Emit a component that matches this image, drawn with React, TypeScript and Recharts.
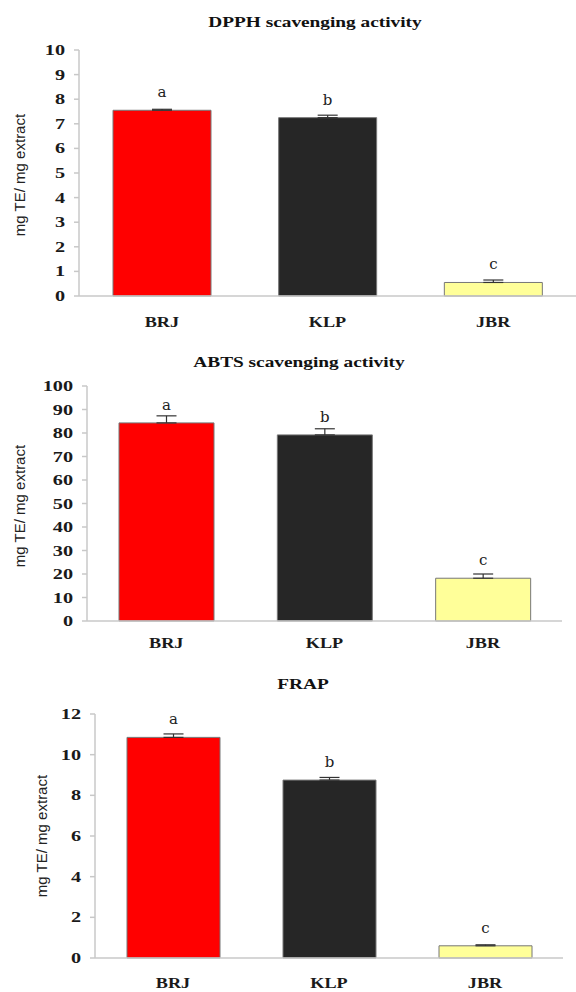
import React from 'react';
import { BarChart, Bar, XAxis, YAxis, Cell, ErrorBar, LabelList } from 'recharts';

const categories = ['BRJ', 'KLP', 'JBR'];
const barColors = ['#ff0000', '#262626', '#ffff99'];
const letters = ['a', 'b', 'c'];

const dpphValues = [7.55, 7.25, 0.55];
const dpphErrors = [0.04, 0.1, 0.1];
const dpphTicks = [0, 1, 2, 3, 4, 5, 6, 7, 8, 9, 10];

const abtsValues = [84.3, 79.2, 18.2];
const abtsErrors = [3, 2.6, 1.8];
const abtsTicks = [0, 10, 20, 30, 40, 50, 60, 70, 80, 90, 100];

const frapValues = [10.85, 8.75, 0.6];
const frapErrors = [0.17, 0.13, 0.05];
const frapTicks = [0, 2, 4, 6, 8, 10, 12];

const serif = '"Liberation Serif", "Times New Roman", serif';
const sans = '"Liberation Sans", Arial, sans-serif';
const axisGray = '#c8c8c8';

const buildRows = (values: number[], errors: number[]) =>
  categories.map((name, i) => ({ name, value: values[i], err: [0, errors[i]], letter: letters[i] }));

// tick text is drawn wide, like the stretched original
const renderYTick = ({ x, y, payload }: any) => (
  <g transform={`translate(${x},${y})`}>
    <text transform="scale(1.35,1)" textAnchor="end" dy={5} fontFamily={serif} fontWeight="bold" fontSize={15} fill="#1a1a1a">
      {payload.value}
    </text>
  </g>
);

const makeXTick = (dy: number) => ({ x, y, payload }: any) => (
  <g transform={`translate(${x},${y})`}>
    <text transform="scale(1.3,1)" textAnchor="middle" dy={dy} fontFamily={serif} fontWeight="bold" fontSize={14} fill="#1a1a1a">
      {payload.value}
    </text>
  </g>
);

const letterLabel = (p: any) => (
  <text x={p.x + p.width / 2} y={p.y - 13} textAnchor="middle" fontFamily='"DejaVu Serif", serif' fontSize={15} fill="#222">
    {p.value}
  </text>
);

interface PanelProps {
  top: number;
  height: number;
  values: number[];
  errors: number[];
  ticks: number[];
  margin: { top: number; right: number; bottom: number; left: number };
  barSize: number;
  labelDy: number;
}

function Panel({ top, height, values, errors, ticks, margin, barSize, labelDy }: PanelProps) {
  const rows = buildRows(values, errors);
  return (
    <div style={{ position: 'absolute', left: 0, top }}>
      <BarChart width={576} height={height} data={rows} margin={margin}>
        <XAxis
          dataKey="name"
          height={30}
          tickSize={0}
          tickMargin={0}
          tickLine={false}
          axisLine={{ stroke: axisGray, strokeWidth: 1.5 }}
          tick={makeXTick(labelDy)}
          interval={0}
        />
        <YAxis
          width={40}
          domain={[ticks[0], ticks[ticks.length - 1]]}
          ticks={ticks}
          interval={0}
          tickSize={5}
          tickMargin={9}
          axisLine={{ stroke: axisGray, strokeWidth: 1.5 }}
          tickLine={{ stroke: axisGray, strokeWidth: 1.5 }}
          tick={renderYTick}
        />
        <Bar dataKey="value" barSize={barSize} stroke="#777" strokeWidth={1} isAnimationActive={false}>
          {rows.map((r, i) => (
            <Cell key={r.name} fill={barColors[i]} />
          ))}
          <ErrorBar dataKey="err" width={10} stroke="#333" strokeWidth={1.2} direction="y" isAnimationActive={false} />
          <LabelList dataKey="letter" content={letterLabel} />
        </Bar>
      </BarChart>
    </div>
  );
}

const titles = [
  { text: 'DPPH scavenging activity', x: 315, y: 27 },
  { text: 'ABTS scavenging activity', x: 299, y: 367 },
  { text: 'FRAP', x: 303, y: 689 },
];

const yLabels = [
  { x: 20, y: 175 },
  { x: 20, y: 506 },
  { x: 42, y: 836 },
];

export default function App() {
  return (
    <div style={{ position: 'absolute', left: 0, top: 0, width: 576, height: 992, background: '#fff' }}>
      <Panel top={0} height={340} values={dpphValues} errors={dpphErrors} ticks={dpphTicks}
        margin={{ top: 50, right: 0, bottom: 14, left: 39 }} barSize={98} labelDy={31} />
      <Panel top={330} height={330} values={abtsValues} errors={abtsErrors} ticks={abtsTicks}
        margin={{ top: 56, right: 14, bottom: 9, left: 47 }} barSize={95} labelDy={27} />
      <Panel top={660} height={332} values={frapValues} errors={frapErrors} ticks={frapTicks}
        margin={{ top: 54, right: 13, bottom: 4, left: 55 }} barSize={93} labelDy={30} />
      <svg width={576} height={992} style={{ position: 'absolute', left: 0, top: 0, pointerEvents: 'none' }}>
        {titles.map((t) => (
          <text key={t.text} transform={`translate(${t.x},${t.y}) scale(1.38,1)`} textAnchor="middle"
            fontFamily={serif} fontWeight="bold" fontSize={14} fill="#111">
            {t.text}
          </text>
        ))}
        {yLabels.map((l, i) => (
          <text key={i} transform={`translate(${l.x},${l.y}) rotate(-90)`} textAnchor="middle" dy={5}
            fontFamily={sans} fontSize={15} fill="#222">
            mg TE/ mg extract
          </text>
        ))}
      </svg>
    </div>
  );
}
